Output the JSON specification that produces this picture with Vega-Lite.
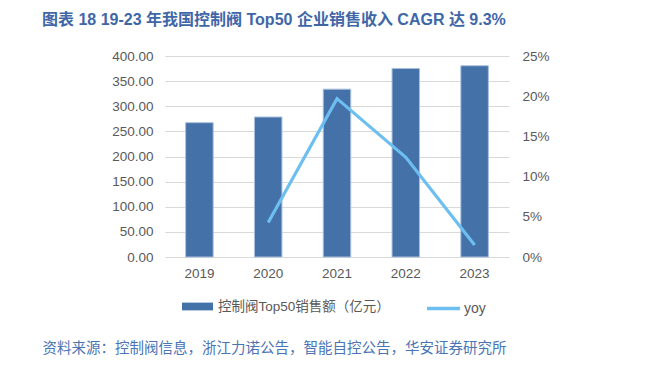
{
  "$schema": "https://vega.github.io/schema/vega-lite/v6.json",
  "width": 344,
  "height": 201,
  "autosize": {"type": "none"},
  "padding": {"left": 165, "top": 56, "right": 136, "bottom": 114},
  "background": "white",
  "config": {"view": {"stroke": null}},
  "title": {
    "text": "图表 18 19-23 年我国控制阀 Top50 企业销售收入 CAGR 达 9.3%",
    "anchor": "start",
    "frame": "group",
    "dx": -123,
    "offset": 21,
    "font": "Liberation Sans, Noto Sans CJK SC",
    "fontSize": 16,
    "fontWeight": "bold",
    "color": "#3F67A8"
  },
  "data": {
    "values": [
      {"year": "2019", "sales": 267.3, "yoy": null},
      {"year": "2020", "sales": 278.6, "yoy": 0.043},
      {"year": "2021", "sales": 334.0, "yoy": 0.197},
      {"year": "2022", "sales": 375.2, "yoy": 0.124},
      {"year": "2023", "sales": 380.6, "yoy": 0.015}
    ]
  },
  "encoding": {
    "x": {
      "field": "year",
      "type": "nominal",
      "scale": {"paddingInner": 0.6, "paddingOuter": 0.3},
      "axis": {
        "labelAngle": 0,
        "ticks": false,
        "domain": true,
        "domainColor": "#D9D9D9",
        "domainWidth": 1,
        "labelPadding": 9,
        "labelFont": "Liberation Sans",
        "labelFontSize": 13.5,
        "labelColor": "#595959",
        "title": "资料来源：控制阀信息，浙江力诺公告，智能自控公告，华安证券研究所",
        "titleX": -123,
        "titleY": 91,
        "titleAlign": "left",
        "titleAnchor": "start",
        "titleBaseline": "middle",
        "titleFont": "Noto Sans CJK SC",
        "titleFontSize": 14.5,
        "titleFontWeight": "normal",
        "titleColor": "#4A74B4",
        "titleLimit": 600
      }
    }
  },
  "layer": [
    {
      "mark": {"type": "bar", "stroke": "#A9C0DE", "strokeWidth": 1},
      "encoding": {
        "y": {
          "field": "sales",
          "type": "quantitative",
          "scale": {"domain": [0, 400], "nice": false},
          "axis": {
            "values": [0, 50, 100, 150, 200, 250, 300, 350, 400],
            "format": ".2f",
            "grid": true,
            "gridColor": "#D9D9D9",
            "gridWidth": 1,
            "domain": false,
            "ticks": false,
            "labelPadding": 12,
            "labelFont": "Liberation Sans",
            "labelFontSize": 13.5,
            "labelColor": "#595959",
            "title": null
          }
        },
        "fill": {
          "datum": "控制阀Top50销售额（亿元）",
          "scale": {"range": ["#4471A7"]},
          "legend": {
            "orient": "none",
            "legendX": 17,
            "legendY": 235,
            "padding": 0,
            "title": null,
            "symbolType": "M-1,-0.25H1V0.25H-1Z",
            "symbolSize": 961,
            "symbolStrokeWidth": 0,
            "labelOffset": 5,
            "labelLimit": 400,
            "labelFont": "Liberation Sans, Noto Sans CJK SC",
            "labelFontSize": 13.5,
            "labelColor": "#595959"
          }
        }
      }
    },
    {
      "mark": {"type": "line", "strokeWidth": 3.2},
      "encoding": {
        "y": {
          "field": "yoy",
          "type": "quantitative",
          "scale": {"domain": [0, 0.25], "nice": false},
          "axis": {
            "orient": "right",
            "values": [0, 0.05, 0.1, 0.15, 0.2, 0.25],
            "format": ".0%",
            "grid": false,
            "domain": false,
            "ticks": false,
            "labelPadding": 13,
            "labelFont": "Liberation Sans",
            "labelFontSize": 13.5,
            "labelColor": "#595959",
            "title": null
          }
        },
        "stroke": {
          "datum": "yoy",
          "scale": {"range": ["#6CBFF0"]},
          "legend": {
            "orient": "none",
            "legendX": 260,
            "legendY": 234,
            "padding": 0,
            "title": null,
            "symbolType": "stroke",
            "symbolSize": 1089,
            "symbolStrokeWidth": 3.5,
            "labelOffset": 2,
            "labelFont": "Liberation Sans",
            "labelFontSize": 14,
            "labelColor": "#595959"
          }
        }
      }
    }
  ],
  "resolve": {"scale": {"y": "independent"}}
}
